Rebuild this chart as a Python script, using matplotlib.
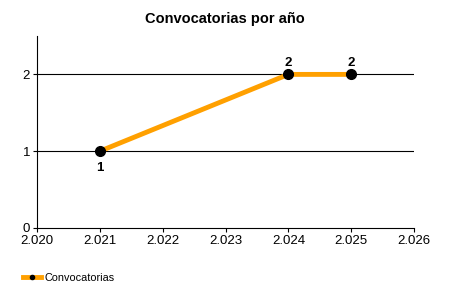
import matplotlib
matplotlib.use('Agg')
import matplotlib.pyplot as plt
from matplotlib.lines import Line2D

plt.rcParams['font.family'] = ['Liberation Sans', 'DejaVu Sans']

years = [2021, 2024, 2025]
counts = [1, 2, 2]
label_offsets = [-12, 8, 8]  # below / above, points
xticks = [2020, 2021, 2022, 2023, 2024, 2025, 2026]
xtick_labels = ['2.020', '2.021', '2.022', '2.023', '2.024', '2.025', '2.026']
yticks = [0, 1, 2]

fig = plt.figure(figsize=(4.5, 3.0), dpi=100)
ax = fig.add_axes([0.0822, 0.24, 0.838, 0.64])

for y in [1, 2]:
    ax.axhline(y, color='black', lw=0.8, zorder=1)

ax.plot(years, counts, color='#FFA000', lw=3.5, zorder=2, solid_capstyle='butt')
ax.plot(years, counts, 'o', color='black', ms=7, zorder=3)

for x, c, off in zip(years, counts, label_offsets):
    ax.annotate(str(c), (x, c), xytext=(0, off), textcoords='offset points',
                ha='center', va='center', fontsize=9.5, fontweight='bold')

ax.set_xlim(2020, 2026)
ax.set_ylim(0, 2.5)
ax.set_xticks(xticks)
ax.set_xticklabels(xtick_labels)
ax.set_yticks(yticks)
ax.tick_params(labelsize=9.5, length=3, width=0.8, pad=2)
for s in ['top', 'right']:
    ax.spines[s].set_visible(False)
for s in ['left', 'bottom']:
    ax.spines[s].set_linewidth(0.8)

fig.text(0.5, 0.935, 'Convocatorias por año', ha='center', va='center',
         fontsize=10.5, fontweight='bold')

handle = Line2D([], [], color='#FFA000', lw=3.5, marker='o', ms=3,
                markerfacecolor='black', markeredgecolor='black')
fig.legend([handle], ['Convocatorias'], loc='center left',
           bbox_to_anchor=(0.03, 0.073), frameon=False, fontsize=7.8,
           handlelength=1.6, handletextpad=0.4)

fig.savefig('out.png', dpi=100)
